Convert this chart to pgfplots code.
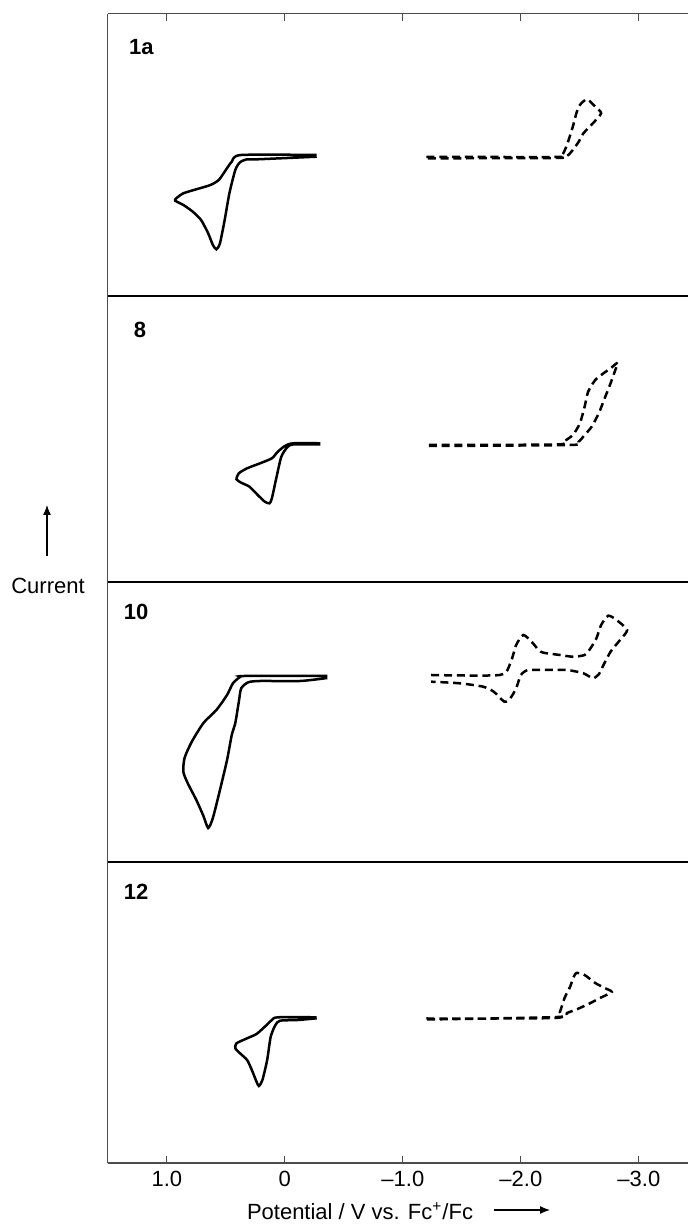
\documentclass[border=0pt]{standalone}
\usepackage{pgfplots}
\pgfplotsset{compat=1.18}
\usepackage{fontspec}
\setmainfont{Liberation Sans}
\usetikzlibrary{arrows.meta}

% one panel per compound, stacked; y is current in arbitrary units
\pgfplotsset{
  cvpanel/.style={
    width=290.25pt, scale only axis, anchor=south west,
    xmin=-3.416, xmax=1.503, x dir=reverse,
    ytick=\empty, xtick=\empty,
    axis line style={draw=none},
    tick align=inside, major tick length=3.5pt,
    every tick/.style={gray!60!black, line width=0.5pt},
  },
  ox/.style={black, line width=1.25pt, smooth, tension=0.4},
  rd/.style={black, line width=1.25pt, smooth, tension=0.4, dash pattern=on 4pt off 2.4pt},
}

\begin{document}
\fontsize{11}{13}\selectfont
\begin{tikzpicture}
\useasboundingbox (-53.75pt,-30.5pt) rectangle (290.25pt,581.5pt);

% ---- 1a
\begin{axis}[cvpanel, name=p1, at={(0pt,433.5pt)}, height=141pt,
  ymin=-296, ymax=-14,
  xtick={1,0,-1,-2,-3}, xticklabels={}, xtick pos=right]
\addplot[ox] coordinates {
 (-0.27,-155) (0.37,-155) (0.45,-161.7) (0.51,-171.7) (0.56,-180) (0.63,-185)
 (0.75,-189.3) (0.86,-193.3) (0.92,-198.3) (0.93,-200.7) (0.86,-205) (0.78,-211.7)
 (0.71,-220) (0.65,-233.3) (0.61,-245) (0.58,-249.3) (0.55,-243.3) (0.51,-220)
 (0.47,-193.3) (0.42,-170) (0.38,-162.3) (0.32,-159.3) (0.23,-159.3) (-0.27,-156.7)};
\addplot[rd] coordinates {
 (-1.20,-156.8) (-2.29,-157) (-2.35,-155) (-2.39,-145) (-2.44,-126.7) (-2.47,-113.3)
 (-2.50,-105) (-2.56,-99.3) (-2.63,-106.7) (-2.68,-113.3) (-2.61,-123.3) (-2.53,-133.3)
 (-2.49,-141.7) (-2.44,-150) (-2.39,-156) (-2.30,-158) (-1.20,-158.3)};
\node[anchor=west, font=\bfseries] at (rel axis cs:0.024,0.883) {1a};
\end{axis}

% ---- 8
\begin{axis}[cvpanel, name=p2, at={(0pt,290.5pt)}, height=143pt,
  ymin=-582, ymax=-296]
\addplot[ox] coordinates {
 (-0.30,-443.3) (-0.07,-443.3) (0.00,-446) (0.06,-451.7) (0.11,-458.3) (0.21,-463.3)
 (0.32,-468.3) (0.39,-473.3) (0.41,-479.3) (0.37,-482.7) (0.30,-486.7) (0.23,-495)
 (0.17,-501.7) (0.13,-503.3) (0.11,-498.3) (0.07,-476.7) (0.03,-456.7) (-0.02,-447.3)
 (-0.07,-444.5) (-0.30,-444.5)};
\addplot[rd] coordinates {
 (-1.22,-445) (-2.30,-444.5) (-2.36,-441.7) (-2.44,-435) (-2.50,-423.3) (-2.54,-406.7)
 (-2.57,-391.7) (-2.63,-380) (-2.70,-373.3) (-2.76,-368.3) (-2.82,-362.7) (-2.80,-370)
 (-2.76,-383.3) (-2.71,-398.3) (-2.66,-413.3) (-2.60,-426.7) (-2.54,-435) (-2.49,-441.7)
 (-2.42,-445) (-1.22,-446)};
\node[anchor=west, font=\bfseries] at (rel axis cs:0.032,0.881) {8};
\end{axis}

% ---- 10
\begin{axis}[cvpanel, name=p3, at={(0pt,150.5pt)}, height=140pt,
  ymin=-862, ymax=-582]
\addplot[ox] coordinates {
 (-0.36,-676) (0.34,-676) (0.38,-677) (0.44,-683.3) (0.49,-695) (0.58,-710)
 (0.69,-723) (0.79,-742) (0.85,-758) (0.86,-772) (0.82,-784) (0.75,-800)
 (0.69,-816) (0.65,-828) (0.61,-818) (0.55,-790) (0.49,-760) (0.45,-735)
 (0.42,-723) (0.39,-701.7) (0.37,-688.3) (0.31,-682.3) (0.21,-681) (-0.13,-681) (-0.36,-678)};
\addplot[rd] coordinates {
 (-1.24,-675) (-1.82,-675) (-1.91,-663.3) (-1.96,-645) (-2.02,-635) (-2.09,-641.7)
 (-2.15,-650) (-2.19,-652.7) (-2.33,-655) (-2.44,-656.7) (-2.54,-655) (-2.59,-648.3)
 (-2.64,-638.3) (-2.68,-625) (-2.74,-615.7) (-2.81,-620) (-2.90,-630) (-2.84,-640)
 (-2.76,-651.7) (-2.70,-665) (-2.66,-674.3) (-2.61,-678.3) (-2.53,-673.3) (-2.39,-670)
 (-2.19,-670) (-2.06,-670) (-2.00,-675) (-1.96,-688.3) (-1.91,-698.3) (-1.86,-701.7)
 (-1.77,-691.7) (-1.68,-686.7) (-1.48,-683.3) (-1.24,-681.7)};
\node[anchor=west, font=\bfseries] at (rel axis cs:0.015,0.893) {10};
\end{axis}

% ---- 12
\begin{axis}[cvpanel, name=p4, at={(0pt,0pt)}, height=150.5pt,
  ymin=-1163, ymax=-862,
  xtick={1,0,-1,-2,-3}, xticklabels={1.0,0,–1.0,–2.0,–3.0}, xtick pos=left]
\addplot[ox] coordinates {
 (-0.27,-1017.3) (0.06,-1017.3) (0.11,-1020) (0.17,-1026.7) (0.24,-1034) (0.32,-1038.3)
 (0.41,-1043.3) (0.42,-1048.3) (0.38,-1053.3) (0.32,-1060) (0.28,-1070) (0.24,-1081.7)
 (0.22,-1086) (0.19,-1080) (0.15,-1060) (0.12,-1036.7) (0.08,-1025) (0.04,-1020.7)
 (-0.11,-1020) (-0.27,-1018.3)};
\addplot[rd] coordinates {
 (-1.20,-1018.5) (-2.29,-1018) (-2.33,-1012) (-2.37,-998) (-2.42,-986) (-2.44,-979)
 (-2.47,-973) (-2.54,-975) (-2.63,-983) (-2.71,-988) (-2.77,-992) (-2.67,-998)
 (-2.59,-1003) (-2.48,-1009) (-2.39,-1013) (-2.31,-1017) (-1.20,-1019.5)};
\node[anchor=west, font=\bfseries] at (rel axis cs:0.015,0.900) {12};
\end{axis}

% frame and panel dividers
\draw[gray!60!black, line width=0.75pt] (p4.south west) -- (p1.north west);
\draw[gray!60!black, line width=0.5pt] (p1.north west) -- (p1.north east);
\draw[gray!60!black, line width=0.7pt] (p4.south west) -- (p4.south east);
\foreach \p in {p1,p2,p3}
  \draw[black, line width=1pt] (\p.south west) -- (\p.south east);

% axis titles
\draw[-{Latex[length=5pt,width=4pt]}, line width=0.6pt] (-30.25pt,303.5pt) -- (-30.25pt,329pt);
\node at (-29.75pt,288.5pt) {Current};
\node at (126.25pt,-24pt) {Potential / V vs. Fc\textsuperscript{+}/Fc};
\draw[-{Latex[length=5pt,width=4pt]}, line width=0.6pt] (193.25pt,-23.5pt) -- (221.25pt,-23.5pt);
\end{tikzpicture}
\end{document}
